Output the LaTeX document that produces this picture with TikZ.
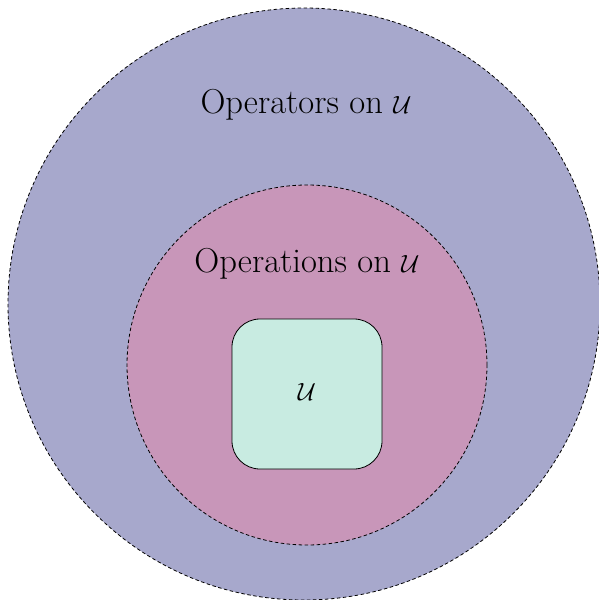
\documentclass[tikz,border=0pt]{standalone}
\usepackage{amsmath}
\definecolor{operatorsfill}{RGB}{167,168,204}
\definecolor{operationsfill}{RGB}{200,150,185}
\definecolor{universefill}{RGB}{200,235,225}
\tikzset{
  region/.style={circle, draw=black, line width=0.8pt, dash pattern=on 3.5pt off 2.5pt, inner sep=0pt},
  universe/.style={draw=black, line width=0.8pt, rounded corners=28pt, fill=universefill,
                   minimum width=150pt, minimum height=150pt, inner sep=0pt},
  caption/.style={font=\fontsize{34.6}{40}\selectfont}
}
\begin{document}
\begin{tikzpicture}[x=1pt,y=-1pt]
  \useasboundingbox (0,0) rectangle (598,600);
  \node[region, fill=operatorsfill, minimum size=592pt] (operators) at (304,304) {};
  \node[region, fill=operationsfill, minimum size=360pt] (operations) at (307,365) {};
  \node[universe] (universe) at (307,394) {};
  \node[caption] (operatorslabel) at (306,105) {Operators on $\mathcal{U}$};
  \node[caption] (operationslabel) at (307,264) {Operations on $\mathcal{U}$};
  \node[caption] (universelabel) at (307,392) {$\mathcal{U}$};
\end{tikzpicture}
\end{document}
